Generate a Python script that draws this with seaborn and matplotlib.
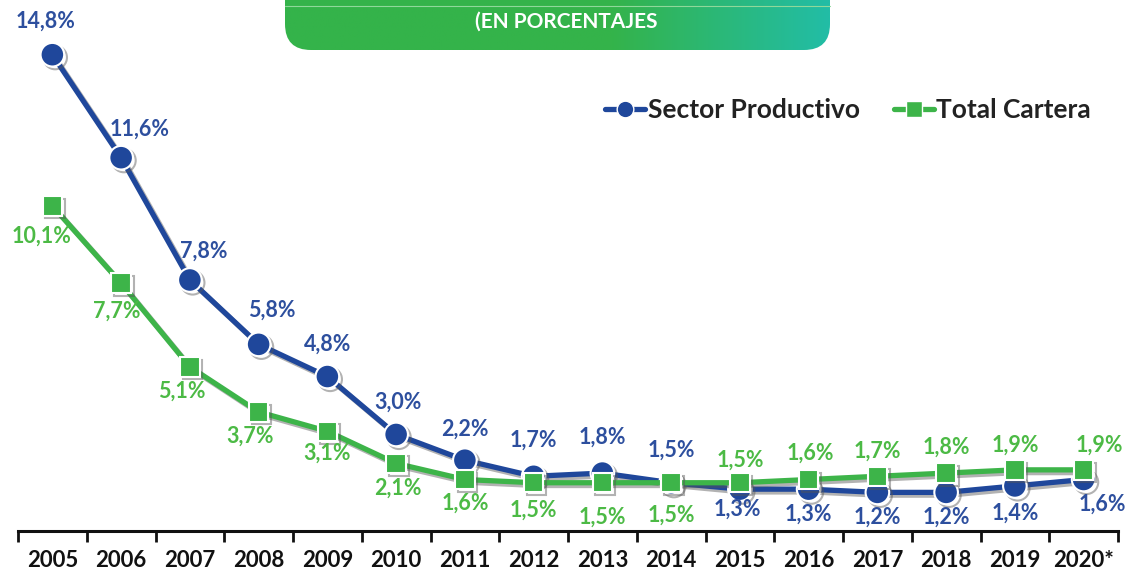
import numpy as np
import pandas as pd
import seaborn as sns
import matplotlib.pyplot as plt
from matplotlib.patches import FancyBboxPatch
from matplotlib.lines import Line2D
from matplotlib import patheffects as pe
from matplotlib.colors import LinearSegmentedColormap

# data
years = ["2005", "2006", "2007", "2008", "2009", "2010", "2011", "2012",
         "2013", "2014", "2015", "2016", "2017", "2018", "2019", "2020*"]
sector_productivo = [14.8, 11.6, 7.8, 5.8, 4.8, 3.0, 2.2, 1.7,
                     1.8, 1.5, 1.3, 1.3, 1.2, 1.2, 1.4, 1.6]
total_cartera = [10.1, 7.7, 5.1, 3.7, 3.1, 2.1, 1.6, 1.5,
                 1.5, 1.5, 1.5, 1.6, 1.7, 1.8, 1.9, 1.9]
series_names = ["Sector Productivo", "Total Cartera"]
titulo = "(EN PORCENTAJES"

# label offsets in pixels (dx, dy screen-down)
off_blue = [(-7, -34), (18, -28), (14, -29), (13, -34), (0, -32), (2, -32),
            (0, -31), (0, -36), (0, -36), (0, -33), (-3, 20), (0, 25),
            (0, 25), (0, 25), (0, 27), (19, 25)]
off_green = [(-11, 30), (-4, 28), (-8, 24), (-9, 24), (0, 22), (2, 25),
             (0, 24), (0, 27), (0, 34), (0, 32), (0, -23), (2, -26),
             (0, -25), (0, -26), (0, -25), (16, -25)]

BLUE = "#1f479b"
GREEN = "#3db449"
BLUE_TXT = "#2d4f9e"
GREEN_TXT = "#4cba45"

sns.set_style("white")
plt.rcParams['font.family'] = ['Lato', 'DejaVu Sans']

fig = plt.figure(figsize=(11.34, 5.71), dpi=100)
ax = fig.add_axes([18 / 1134, 40 / 571, 1100 / 1134, 531 / 571])

df = pd.DataFrame({"year": years * 2,
                   "valor": sector_productivo + total_cartera,
                   "serie": [series_names[0]] * len(years) + [series_names[1]] * len(years)})

shadow = [pe.SimpleLineShadow(offset=(2, -2), shadow_color="#555555", alpha=0.45), pe.Normal()]

sns.lineplot(data=df, x="year", y="valor", hue="serie", style="serie",
             palette=[BLUE, GREEN], markers=["o", "s"], dashes=False,
             sort=False, ax=ax, legend=False)
for line, ms in zip(ax.lines, [17, 14]):
    line.set_linewidth(3.8)
    line.set_markersize(ms)
    line.set_markeredgecolor("white")
    line.set_markeredgewidth(1.5)
    line.set_path_effects(shadow)

ax.lines[0].set_zorder(3)
ax.lines[1].set_zorder(4)

k = 72 / 100
for i, v in enumerate(sector_productivo):
    dx, dy = off_blue[i]
    ax.annotate(f"{v:.1f}%".replace(".", ","), (i, v), xytext=(dx * k, -dy * k),
                textcoords="offset points", ha="center", va="center",
                fontsize=15.5, fontweight="bold", color=BLUE_TXT, zorder=6)
for i, v in enumerate(total_cartera):
    dx, dy = off_green[i]
    ax.annotate(f"{v:.1f}%".replace(".", ","), (i, v), xytext=(dx * k, -dy * k),
                textcoords="offset points", ha="center", va="center",
                fontsize=15.5, fontweight="bold", color=GREEN_TXT, zorder=6)

ax.set_xlim(-0.5, len(years) - 0.5)
ax.set_ylim(0, 16.5)
ax.set_yticks([])
ax.set_xlabel("")
ax.set_ylabel("")
for s in ["top", "right", "left"]:
    ax.spines[s].set_visible(False)
ax.spines["bottom"].set_linewidth(2.2)
ax.spines["bottom"].set_color("#111111")
ax.set_xticks(range(len(years)))
ax.set_xticklabels(years, fontsize=16, fontweight="bold", color="#111111")
ax.set_xticks(np.arange(-0.5, len(years), 1.0), minor=True)
ax.tick_params(axis="x", which="major", bottom=True, length=0, pad=14)
ax.tick_params(axis="x", which="minor", bottom=True, length=8, width=2,
               color="#111111", direction="out")

# legend
handles = [Line2D([], [], color=BLUE, lw=3.8, marker="o", ms=12, markeredgecolor="white"),
           Line2D([], [], color=GREEN, lw=3.8, marker="s", ms=11, markeredgecolor="white")]
leg = fig.legend(handles, series_names, loc="center right", bbox_to_anchor=(0.983, 0.807),
                 ncol=2, frameon=False, handlelength=1.5, handletextpad=0.1,
                 columnspacing=1.3, prop={"weight": "bold", "size": 19})
for t in leg.get_texts():
    t.set_color("#222222")

# banner
bax = fig.add_axes([0, 0, 1, 1], zorder=10)
bax.axis("off")
bax.patch.set_alpha(0)
patch = FancyBboxPatch((285, -40), 545, 90, boxstyle="round,pad=0,rounding_size=26",
                       facecolor="none", edgecolor="none")
bax.add_patch(patch)
cmap = LinearSegmentedColormap.from_list("ban", [(0, "#34b34a"), (0.6, "#34b34a"), (1, "#22bda6")])
grad = np.linspace(0, 1, 256).reshape(1, -1)
im = bax.imshow(grad, cmap=cmap, extent=(285, 830, 50, -40), aspect="auto")
im.set_clip_path(patch)
bax.plot([285, 830], [6, 6], color="#8fd89a", lw=0.8)
bax.text(566, 22, titulo, ha="center", va="center", color="white",
         fontsize=15, fontweight="bold")
bax.set_xlim(0, 1134)
bax.set_ylim(571, 0)

fig.savefig("out.png", dpi=100)
